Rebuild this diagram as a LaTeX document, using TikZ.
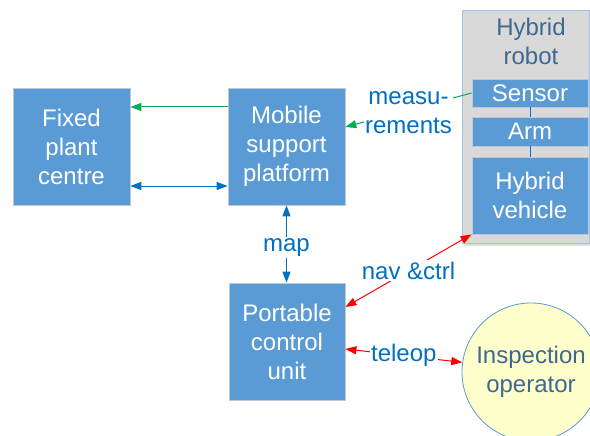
\documentclass[tikz,border=0pt]{standalone}
\usepackage{fontspec}
\setmainfont{Liberation Sans}
\usetikzlibrary{arrows.meta,shadows}
\definecolor{boxblue}{HTML}{5B9BD5}
\definecolor{boxedge}{HTML}{BFC9D4}
\definecolor{lblblue}{HTML}{0070C0}
\definecolor{slate}{RGB}{62,104,146}
\definecolor{arrgreen}{HTML}{00B050}
\definecolor{arrred}{HTML}{FF0000}
\definecolor{panelgray}{HTML}{D9D9D9}
\definecolor{paneledge}{HTML}{9DC3E6}
\definecolor{opfill}{HTML}{FFFFCC}
\tikzset{
  txt/.style={font=\fontsize{24}{29}\selectfont, align=center},
  block/.style={txt, fill=boxblue, draw=boxedge, line width=0.8pt, text=white, inner sep=0pt},
  lbl/.style={txt, fill=white, text=lblblue, inner sep=1.5pt},
  greenline/.style={draw=arrgreen, line width=1pt},
  blueline/.style={draw=lblblue, line width=1pt},
  redline/.style={draw=arrred, line width=1pt},
  joint/.style={draw=lblblue, line width=0.8pt}
}
\begin{document}
\begin{tikzpicture}[x=1pt,y=-1pt, >={Triangle[length=11pt,width=8pt]}]
\useasboundingbox (0,0) rectangle (590,436);

% hybrid robot panel
\node[fill=panelgray, draw=paneledge, line width=0.8pt, minimum width=127pt, minimum height=233pt,
      drop shadow={shadow xshift=1.5pt, shadow yshift=-3pt, opacity=0.25}] (robot) at (525.5,126.5) {};
\node[txt, text=slate] (robottitle) at (531,41) {Hybrid\\robot};

% blocks
\node[block, minimum width=117pt, minimum height=117pt] (fixed) at (71.5,146.5) {Fixed\\plant\\centre};
\node[block, minimum width=117pt, minimum height=117pt] (mobile) at (286.5,146.5) {Mobile\\support\\platform};
\node[block, minimum width=116pt, minimum height=117pt] (portable) at (287,341.5) {Portable\\control\\unit};
\node[block, minimum width=116pt, minimum height=28pt] (sensor) at (530,93) {Sensor};
\node[block, minimum width=116pt, minimum height=29pt] (arm) at (530,131.5) {Arm};
\node[block, minimum width=116pt, minimum height=77pt] (vehicle) at (530,195.5) {Hybrid\\vehicle};
\node[txt, circle, fill=opfill, draw=boxblue, line width=0.8pt, minimum size=138pt, inner sep=0pt,
      text=slate] (operator) at (531,372) {Inspection\\operator};

% links inside the robot
\draw[joint] (sensor) -- (arm);
\draw[joint] (arm) -- (vehicle);

% data flows
\draw[greenline, ->] ([yshift=39.5pt]mobile.west) -- ([yshift=39.5pt]fixed.east);
\draw[blueline, <->] ([yshift=-39.5pt]fixed.east) -- ([yshift=-39.5pt]mobile.west);
\draw[greenline, ->] (sensor.west) -- node[lbl, yshift=-2.5pt] {measu-\\rements} ([yshift=19.5pt]mobile.east);
\draw[blueline, <->] (mobile.south) -- node[lbl, yshift=-3.5pt] {map} (mobile.south |- portable.north);
\draw[redline, <->] ([yshift=34.5pt]portable.east) -- node[lbl] {nav \&ctrl} (vehicle.south west);
\draw[redline, <->] ([yshift=-7.5pt]portable.east) -- node[lbl] {teleop} (operator.172);
\end{tikzpicture}
\end{document}
